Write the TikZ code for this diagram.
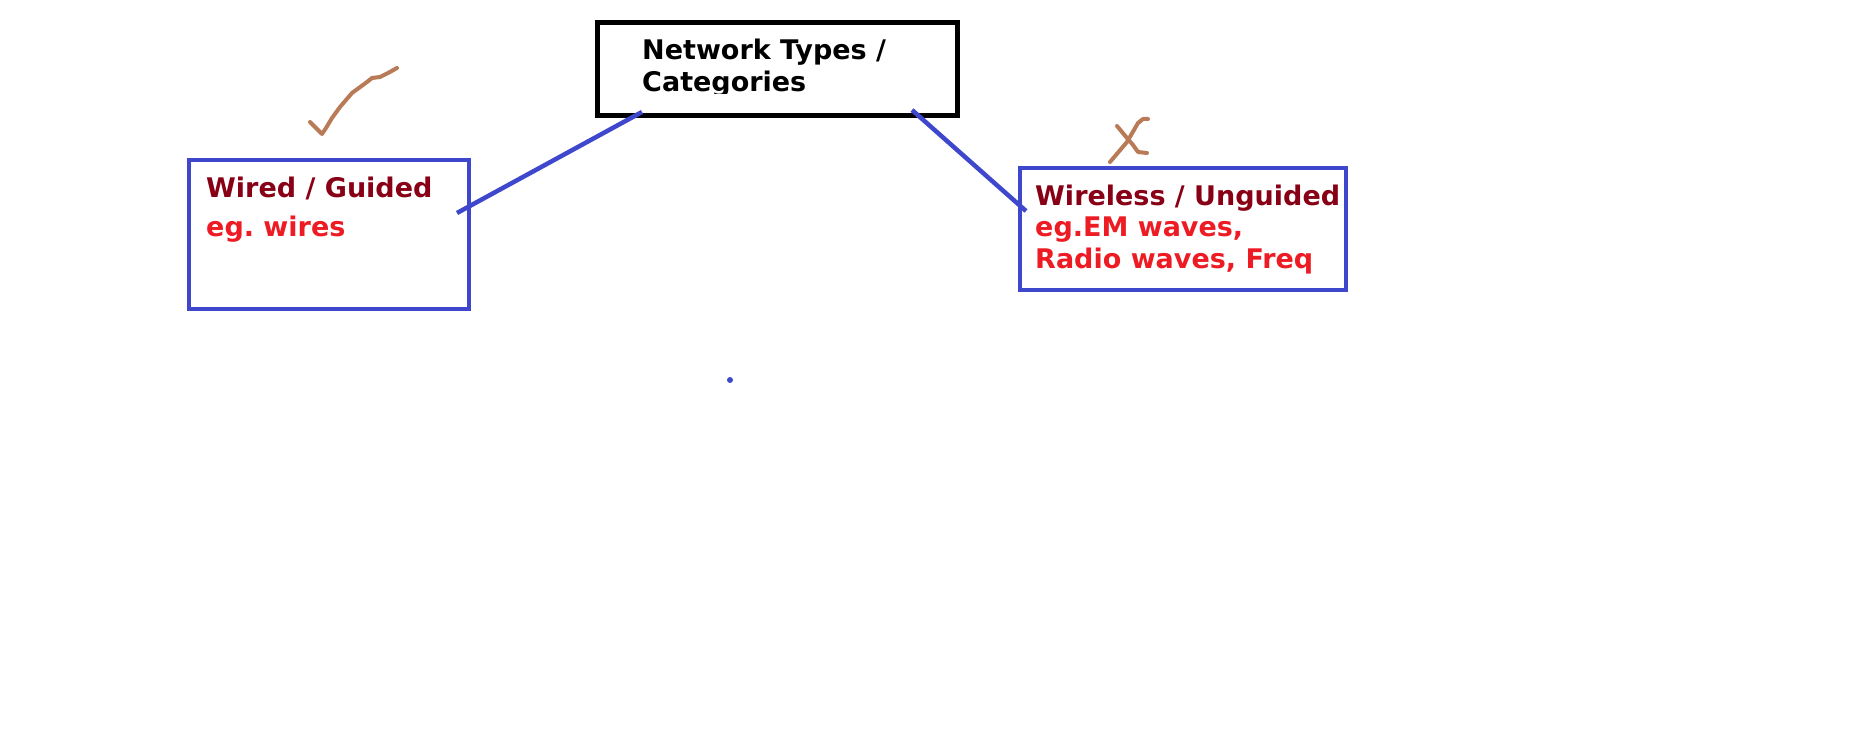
\documentclass[tikz,border=0pt]{standalone}
\usepackage{fontspec}
\setmainfont{DejaVu Sans}
\frenchspacing
\definecolor{penblue}{HTML}{3F48CC}
\definecolor{pendred}{HTML}{880015}
\definecolor{penred}{HTML}{ED1C24}
\definecolor{penbrown}{HTML}{B97A57}
\tikzset{
  box/.style={draw, line width=4pt, inner sep=0pt},
  txt/.style={anchor=base west, inner sep=0pt, font=\fontsize{27}{32}\selectfont\bfseries},
  wire/.style={penblue, line width=4.5pt},
  ink/.style={penbrown, line width=4pt, line cap=round, line join=round}
}
\begin{document}
\begin{tikzpicture}[x=1pt,y=-1pt]
\useasboundingbox (0,0) rectangle (1850,743);
% boxes
\node[box, line width=5pt, minimum width=360pt, minimum height=93pt] (top) at (777.5,69) {};
\node[box, penblue, minimum width=280pt, minimum height=149pt] (wired) at (329,234.5) {};
\node[box, penblue, minimum width=326pt, minimum height=122pt] (wireless) at (1183,229) {};
% texts
\begin{scope}
\clip (600,25) rectangle (955,94);
\node[txt] (t1) at (642,60) {Network Types /};
\node[txt] (t2) at (642,92) {Categories};
\end{scope}
\node[txt, pendred] (w1) at (206,198) {Wired / Guided};
\node[txt, penred] (w2) at (206,237) {eg. wires};
\node[txt, pendred] (u1) at (1035,206) {Wireless / Unguided};
\node[txt, penred] (u2) at (1035,237) {eg.EM waves,};
\node[txt, penred] (u3) at (1035,269) {Radio waves, Freq};
% connectors
\coordinate (a) at (642,112);
\coordinate (b) at (457,213);
\coordinate (c) at (912,110);
\coordinate (d) at (1026,211);
\draw[wire] (a)--(b);
\draw[wire] (c)--(d);
\fill[penblue] (730,380) circle (3pt);
% tick and cross
\draw[ink] (310,122)--(315,127)--(322,134)--(326,128)--(332,118)--(340,107)--(352,93)--(367,82)--(372,78)--(380,77)--(388,73)--(397,68);
\draw[ink] (1110,162)--(1127,142)--(1138,123)--(1143,119)--(1148,119);
\draw[ink] (1117,126)--(1127,138)--(1133,145)--(1138,152)--(1147,153);
\end{tikzpicture}
\end{document}
